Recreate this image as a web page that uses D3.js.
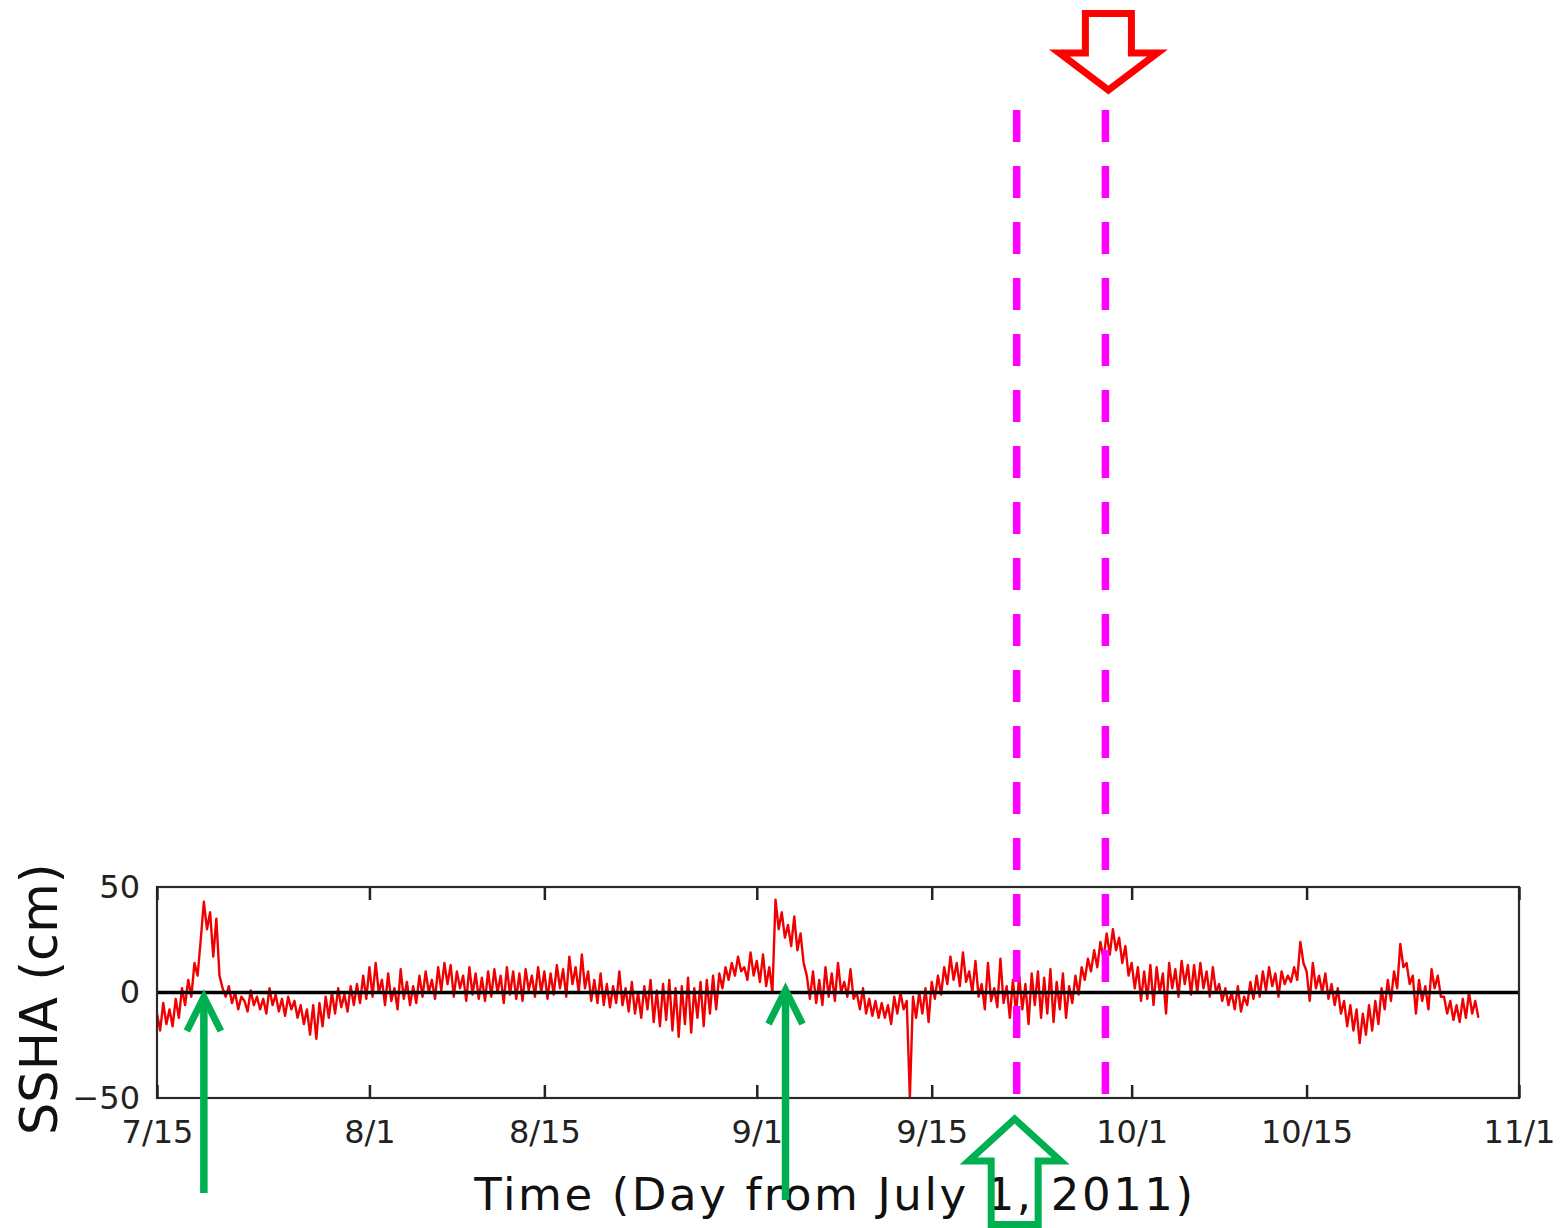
<!DOCTYPE html>
<html>
<head>
<meta charset="utf-8">
<script src="https://cdn.jsdelivr.net/npm/d3@7"></script>
<style>
  html, body { margin: 0; padding: 0; background: #fff; }
  svg { display: block; }
</style>
</head>
<body>
<svg id="chart" width="1561" height="1228"></svg>
<script>
// ---------------- data ----------------
// Time axis: days from July 1, 2011 (July 15 = day 14)
const startDay = 14;
const samplesPerDay = 4;
const tickDays = [14, 31, 45, 62, 76, 92, 106, 123];
const tickLabels = ["7/15", "8/1", "8/15", "9/1", "9/15", "10/1", "10/15", "11/1"];
const yTicks = [-50, 0, 50];
const yDomain = [-50, 50];
// SSHA (cm), 6-hourly samples starting 7/15
const ssha = [
  -10,-18,-5,-15,  -8,-16,-3,-12,  2,-6,6,-2,  14,8,25,43,  30,38,17,35,
  8,2,-2,3,  -5,0,-8,-2,  -4,-9,1,-6,  -2,-8,-3,-10,  2,-6,-1,-9,
  -3,-11,-2,-8,  -4,-12,-6,-15,  -8,-20,-6,-22,  -5,-16,-2,-12,  0,-10,2,-7,
  -1,-9,3,-6,  4,-5,8,-3,  12,-2,14,0,  6,-6,9,-4,  2,-8,11,-3,
  5,-6,3,-5,  8,-2,10,0,  6,-3,12,1,  14,4,13,-2,  10,2,8,-4,
  12,-1,9,-3,  7,-4,10,-2,  11,0,8,-5,  12,-1,10,-3,  9,-4,11,1,
  8,-2,12,0,  10,-3,9,-1,  13,2,11,-2,  17,4,12,0,  18,2,10,-4,
  6,-5,9,-6,  4,-7,3,-5,  10,-6,2,-9,  5,-10,0,-12,  3,-8,6,-14,
  1,-16,4,-13,  6,-18,2,-21,  3,-15,7,-19,  2,-12,5,-16,  6,-10,8,-8,
  9,2,12,6,  14,8,17,10,  12,6,19,8,  15,5,18,3,  12,0,44,30,
  38,26,32,22,  36,20,28,14,  8,-3,10,-5,  6,-6,12,-2,  9,-4,14,0,
  5,-2,11,-3,  0,-8,2,-10,  -3,-11,-4,-12,  -5,-12,-6,-15,  -2,-10,0,-8,
  -4,-50,-2,-12,  0,-10,2,-14,  5,-3,8,-1,  12,4,17,6,  14,3,19,5,
  10,0,15,-2,  4,-8,14,-4,  2,-7,16,-5,  3,-12,6,-10,  8,-8,4,-15,
  9,-6,10,-12,  7,-10,11,-14,  5,-8,9,-12,  3,-5,8,-1,  12,6,16,10,
  20,12,24,16,  28,18,30,20,  26,14,22,8,  14,2,12,-4,  10,-3,13,-6,
  12,0,9,-10,  14,2,11,-2,  15,4,13,-1,  13,0,14,2,  10,-2,12,0,
  4,-4,2,-6,  0,-8,3,-9,  -2,-6,5,-3,  8,-2,10,1,  12,3,9,-2,
  10,4,8,5,  12,6,24,14,  10,-4,14,2,  8,0,9,-3,  4,-6,2,-10,
  -4,-16,-6,-18,  -8,-24,-10,-20,  -6,-18,-4,-15,  2,-8,6,-4,  10,2,23,12,
  14,4,8,-10,  6,-4,3,-8,  11,2,8,-2,  -2,-10,-4,-13,  -6,-14,-3,-12,
  0,-10,-4,-12
];
// annotation positions (days from July 1)
const markerDays = [82.8, 89.9];        // dashed magenta lines
const peakArrowDays = [17.75, 64.3];    // thin green arrows
const xLabel = "Time (Day from July 1, 2011)";
const yLabel = "SSHA (cm)";

// ---------------- layout ----------------
const L = 157, R = 1519, T = 887, B = 1098;
const svg = d3.select("#chart");

const x = d3.scaleLinear().domain([startDay, 123]).range([L, R]);
const y = d3.scaleLinear().domain(yDomain).range([B, T]);

const series = ssha.map((v, i) => ({ t: startDay + i / samplesPerDay, v }));

// red series
svg.append("path")
  .datum(series)
  .attr("fill", "none")
  .attr("stroke", "#f00000")
  .attr("stroke-width", 2.4)
  .attr("stroke-linejoin", "round")
  .attr("d", d3.line().x(d => x(d.t)).y(d => y(d.v)));

// zero line
svg.append("line")
  .attr("x1", L).attr("x2", R)
  .attr("y1", y(0)).attr("y2", y(0))
  .attr("stroke", "#000").attr("stroke-width", 3.5);

// frame
svg.append("rect")
  .attr("x", L).attr("y", T).attr("width", R - L).attr("height", B - T)
  .attr("fill", "none").attr("stroke", "#2a2a2a").attr("stroke-width", 2.2);

// bottom axis (inward ticks + labels)
const fmt = (d) => tickLabels[tickDays.indexOf(d)];
const gx = svg.append("g").attr("transform", `translate(0,${B})`)
  .call(d3.axisBottom(x).tickValues(tickDays).tickSize(-13).tickPadding(22).tickFormat(fmt));
gx.select(".domain").remove();
gx.selectAll("line").attr("stroke", "#222").attr("stroke-width", 2.5);
gx.selectAll("text").attr("font-family", "DejaVu Sans").attr("font-size", 32).attr("fill", "#222");

// top axis (inward ticks only)
const gt = svg.append("g").attr("transform", `translate(0,${T})`)
  .call(d3.axisTop(x).tickValues(tickDays).tickSize(-13).tickFormat(""));
gt.select(".domain").remove();
gt.selectAll("line").attr("stroke", "#222").attr("stroke-width", 2.5);

// left axis labels
const gy = svg.append("g").attr("transform", `translate(${L},0)`)
  .call(d3.axisLeft(y).tickValues(yTicks).tickSize(0).tickPadding(17));
gy.select(".domain").remove();
gy.selectAll("text").attr("font-family", "DejaVu Sans").attr("font-size", 32).attr("fill", "#222");

// x label
svg.append("text")
  .attr("x", 835).attr("y", 1210)
  .attr("text-anchor", "middle")
  .attr("font-family", "DejaVu Sans").attr("font-size", 45)
  .attr("letter-spacing", 2.6)
  .attr("fill", "#111")
  .text(xLabel);

// y label (clipped at top like the source crop)
svg.append("clipPath").attr("id", "topclip")
  .append("rect").attr("x", 0).attr("y", 857).attr("width", 1561).attr("height", 400);
svg.append("g")
  .attr("clip-path", "url(#topclip)")
  .append("text")
  .attr("transform", "translate(57,1135) rotate(-90)")
  .attr("font-family", "DejaVu Sans").attr("font-size", 51)
  .attr("fill", "#111")
  .text(yLabel);

// ---------------- annotations ----------------
const magenta = "#ff00ff", green = "#00b050", red = "#ff0000";

svg.selectAll("line.marker")
  .data(markerDays)
  .enter().append("line")
  .attr("class", "marker")
  .attr("x1", d => x(d)).attr("x2", d => x(d))
  .attr("y1", 110).attr("y2", 1095)
  .attr("stroke", magenta).attr("stroke-width", 7.5)
  .attr("stroke-dasharray", "32 24");

// thin green arrows pointing up at the peaks
peakArrowDays.forEach((d, i) => {
  const ax = x(d);
  const tip = i === 0 ? 997 : 990;
  const bottom = i === 0 ? 1193 : 1200;
  svg.append("path")
    .attr("d", `M${ax},${tip + 3}L${ax},${bottom}`)
    .attr("stroke", green).attr("stroke-width", 7.5).attr("fill", "none");
  svg.append("path")
    .attr("d", `M${ax - 17},${tip + 34}L${ax},${tip}L${ax + 17},${tip + 34}`)
    .attr("stroke", green).attr("stroke-width", 7).attr("fill", "none")
    .attr("stroke-linejoin", "miter").attr("stroke-linecap", "butt");
});

// hollow red arrow pointing down (above second marker)
{
  const ax = x(markerDays[1]) + 3;
  const pts = [[ax - 23, 13.5], [ax + 23, 13.5], [ax + 23, 53], [ax + 49, 53],
               [ax, 90], [ax - 49, 53], [ax - 23, 53]];
  svg.append("polygon")
    .attr("points", pts.map(p => p.join(",")).join(" "))
    .attr("fill", "none").attr("stroke", red).attr("stroke-width", 7)
    .attr("stroke-linejoin", "miter");
}

// hollow green arrow pointing up (below first marker)
{
  const ax = x(markerDays[0]) - 2;
  const pts = [[ax, 1119], [ax + 46, 1161], [ax + 23.5, 1161], [ax + 23.5, 1224.5],
               [ax - 23.5, 1224.5], [ax - 23.5, 1161], [ax - 46, 1161]];
  svg.append("polygon")
    .attr("points", pts.map(p => p.join(",")).join(" "))
    .attr("fill", "none").attr("stroke", green).attr("stroke-width", 7)
    .attr("stroke-linejoin", "miter");
}
</script>
</body>
</html>
